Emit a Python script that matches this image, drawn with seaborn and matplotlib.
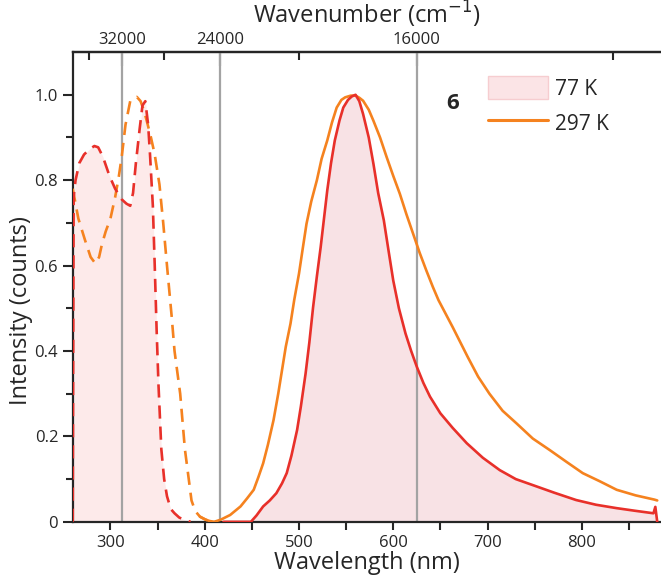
import numpy as np
import seaborn as sns
import matplotlib.pyplot as plt
from matplotlib.patches import Patch
from matplotlib.lines import Line2D
from matplotlib.ticker import FixedLocator, MultipleLocator, FuncFormatter

sns.set_style("ticks")
plt.rcParams["font.family"] = ["Open Sans", "DejaVu Sans"]

red = "#e8302a"
orange = "#f5821f"
pink_ex = "#fdeaea"
pink_em = "#f8e2e5"
grey = "#a3a3a3"

# 77 K excitation (dashed)
ex77_nm = [260, 261, 263, 267, 272, 278, 283, 287, 292, 299, 305, 312, 317, 321,
           324, 327, 331, 334, 337, 340, 342, 345, 347, 349, 351, 354, 357, 360,
           364, 368, 373, 378, 385]
ex77_int = [0.0, 0.76, 0.80, 0.84, 0.86, 0.873, 0.88, 0.877, 0.855, 0.81, 0.78,
            0.755, 0.745, 0.74, 0.77, 0.84, 0.92, 0.975, 0.985, 0.93, 0.86, 0.74,
            0.60, 0.45, 0.32, 0.17, 0.10, 0.06, 0.03, 0.02, 0.01, 0.005, 0.0]

# 297 K excitation (dashed)
ex297_nm = [260, 266, 273, 279, 284, 288, 291, 295, 300, 305, 309, 312, 316, 321,
            325, 328, 332, 336, 339, 343, 347, 352, 356, 360, 365, 368, 374, 379,
            386, 390, 395, 402, 410]
ex297_int = [0.78, 0.71, 0.66, 0.62, 0.605, 0.62, 0.65, 0.68, 0.71, 0.76, 0.81,
             0.855, 0.93, 0.985, 0.99, 0.995, 0.985, 0.96, 0.935, 0.90, 0.86, 0.79,
             0.70, 0.60, 0.48, 0.40, 0.30, 0.17, 0.05, 0.025, 0.012, 0.004, 0.0]

# 77 K emission (solid)
em77_nm = [420, 435, 449, 455, 462, 469, 476, 482, 487, 492, 498, 502, 507, 511,
           515, 519, 523, 530, 534, 538, 543, 547, 552, 556, 560, 564, 568, 574,
           579, 584, 590, 595, 600, 606, 613, 619, 625, 632, 639, 650, 663, 678,
           695, 713, 730, 748, 771, 794, 815, 837, 856, 876, 878, 880]
em77_int = [0.0, 0.0, 0.0, 0.015, 0.036, 0.05, 0.067, 0.09, 0.114, 0.155, 0.215,
            0.27, 0.347, 0.42, 0.503, 0.575, 0.643, 0.776, 0.84, 0.893, 0.94, 0.97,
            0.988, 0.996, 1.0, 0.985, 0.955, 0.9, 0.838, 0.77, 0.706, 0.635, 0.565,
            0.50, 0.441, 0.40, 0.363, 0.325, 0.293, 0.254, 0.22, 0.184, 0.15, 0.121,
            0.10, 0.086, 0.068, 0.051, 0.04, 0.032, 0.026, 0.02, 0.035, 0.0]

# 297 K emission (solid)
em297_nm = [395, 400, 405, 410, 417, 427, 438, 445, 452, 457, 462, 467, 473, 478,
            482, 486, 491, 495, 500, 504, 508, 513, 519, 524, 530, 535, 540, 545,
            549, 555, 560, 564, 568, 574, 579, 586, 593, 600, 607, 614, 621, 628,
            635, 642, 648, 663, 679, 690, 702, 716, 731, 748, 766, 784, 801, 819,
            837, 857, 877, 880]
em297_int = [0.012, 0.006, 0.002, 0.0, 0.005, 0.016, 0.036, 0.055, 0.075, 0.105,
             0.137, 0.18, 0.238, 0.30, 0.355, 0.41, 0.464, 0.52, 0.581, 0.64,
             0.698, 0.75, 0.80, 0.85, 0.893, 0.935, 0.97, 0.988, 0.994, 0.998,
             0.998, 0.993, 0.986, 0.965, 0.939, 0.9, 0.854, 0.81, 0.768, 0.72,
             0.675, 0.63, 0.589, 0.55, 0.519, 0.456, 0.386, 0.34, 0.30, 0.26,
             0.23, 0.195, 0.168, 0.14, 0.114, 0.095, 0.075, 0.062, 0.052, 0.05]

wn_major = [32000, 24000, 16000]
wn_minor = [36000, 28000, 20000, 12000]


def nm_to_wn(x):
    x = np.asarray(x, dtype=float)
    with np.errstate(divide="ignore"):
        return np.where(x == 0, np.inf, 1e7 / x)


fig = plt.figure(figsize=(6.61, 5.85), dpi=100)
ax = fig.add_axes([0.11, 0.108, 0.89, 0.803])

ax.fill_between(ex77_nm, ex77_int, color=pink_ex, lw=0, zorder=1)
ax.fill_between(em77_nm, em77_int, color=pink_em, lw=0, zorder=1)

for wn in wn_major:
    ax.axvline(1e7 / wn, color=grey, lw=1.6, zorder=2)

lw = 1.9
sns.lineplot(x=ex297_nm, y=ex297_int, ax=ax, color=orange, lw=lw,
             linestyle=(0, (5, 3)), zorder=3)
sns.lineplot(x=ex77_nm, y=ex77_int, ax=ax, color=red, lw=lw,
             linestyle=(0, (5, 3)), zorder=3)
sns.lineplot(x=em297_nm, y=em297_int, ax=ax, color=orange, lw=lw, zorder=3)
sns.lineplot(x=em77_nm, y=em77_int, ax=ax, color=red, lw=lw, zorder=3)

ax.set_xlim(260, 884)
ax.set_ylim(0, 1.1)

ax.xaxis.set_major_locator(MultipleLocator(100))
ax.xaxis.set_minor_locator(MultipleLocator(50))
ax.yaxis.set_major_locator(FixedLocator([0, 0.2, 0.4, 0.6, 0.8, 1.0]))
ax.yaxis.set_minor_locator(FixedLocator([0.1, 0.3, 0.5, 0.7, 0.9]))
ax.yaxis.set_major_formatter(FuncFormatter(lambda v, p: "0" if v == 0 else f"{v:.1f}"))

for s in ["left", "bottom", "top"]:
    ax.spines[s].set_linewidth(1.6)
ax.spines["right"].set_visible(False)
ax.tick_params(which="major", direction="out", length=7, width=1.5, labelsize=12)
ax.tick_params(which="minor", direction="out", length=5, width=1.5)
ax.tick_params(axis="x", which="both", length=6)

ax.set_xlabel("Wavelength (nm)", fontsize=17, labelpad=0)
ax.set_ylabel("Intensity (counts)", fontsize=17, labelpad=6)
ax.yaxis.set_label_coords(-0.068, 0.45)

top = ax.secondary_xaxis("top", functions=(nm_to_wn, nm_to_wn))
top.xaxis.set_major_locator(FixedLocator(wn_major))
top.xaxis.set_minor_locator(FixedLocator(wn_minor))
top.xaxis.set_major_formatter(FuncFormatter(lambda v, p: f"{v:.0f}"))
top.tick_params(which="major", direction="in", length=10, width=1.5, labelsize=12, pad=3)
top.tick_params(which="minor", direction="in", length=6, width=1.5)
top.spines["top"].set_linewidth(1.6)
top.set_xlabel("Wavenumber (cm$^{-1}$)", fontsize=17, labelpad=6)

ax.text(663, 0.979, "6", fontsize=16, fontweight="bold", ha="center", va="center")

handles = [Patch(facecolor="#fbe4e6", edgecolor="#f6cdd0", lw=1),
           Line2D([0], [0], color=orange, lw=2.2)]
fig.legend(handles, ["77 K", "297 K"], loc="upper left",
           bbox_to_anchor=(488 / 661, 1 - 76 / 585), frameon=False,
           fontsize=15, handlelength=2.9, handleheight=1.35, handletextpad=0.3,
           labelspacing=0.55, borderpad=0, borderaxespad=0)

fig.savefig("out.png", dpi=100)
